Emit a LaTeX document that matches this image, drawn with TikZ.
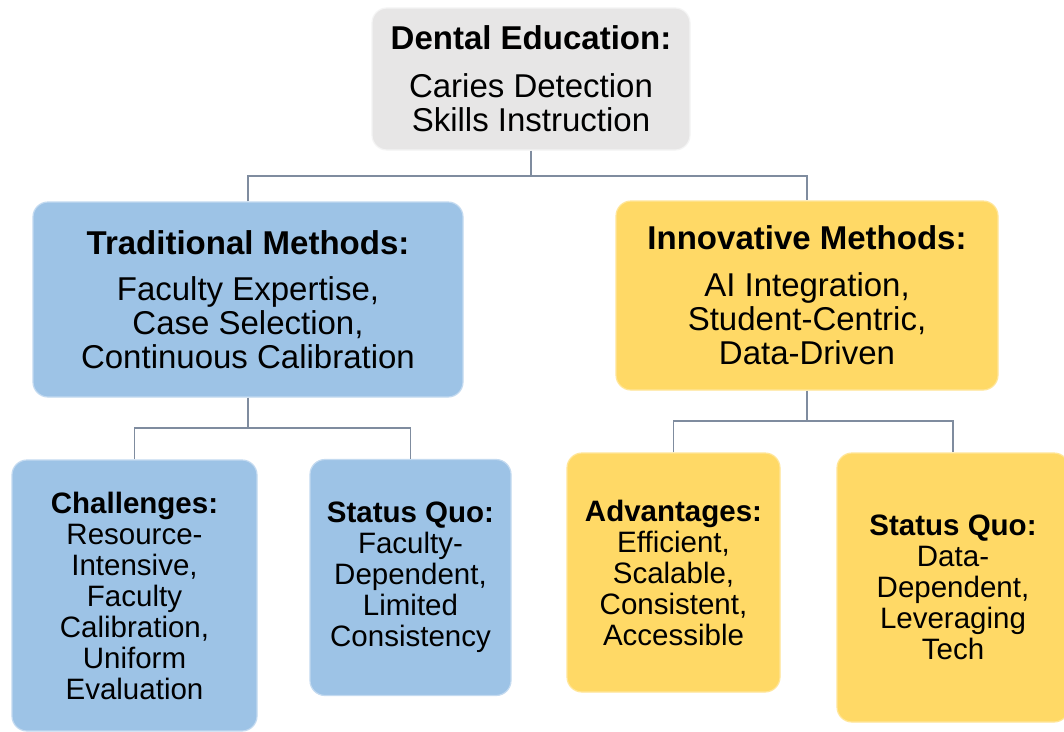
\documentclass[tikz,border=0pt]{standalone}
\usepackage{fontspec}
\setmainfont{Liberation Sans}
\definecolor{boxgray}{HTML}{E7E6E6}
\definecolor{graybord}{HTML}{F4F4F4}
\definecolor{boxblue}{HTML}{9DC3E6}
\definecolor{bluebord}{HTML}{C3DAF0}
\definecolor{boxyellow}{HTML}{FFD966}
\definecolor{yellowbord}{HTML}{FFE699}
\definecolor{connc}{HTML}{7F8C9F}
\tikzset{
  box/.style={rectangle, rounded corners=15pt, align=center, inner sep=0pt, text=black, line width=1.2pt},
  bigtxt/.style={font=\fontsize{33}{34}\selectfont},
  smalltxt/.style={font=\fontsize{29.5}{31}\selectfont},
  graybox/.style={box, bigtxt, fill=boxgray, draw=graybord},
  bluebig/.style={box, bigtxt, fill=boxblue, draw=bluebord},
  yellowbig/.style={box, bigtxt, fill=boxyellow, draw=yellowbord},
  bluesmall/.style={box, smalltxt, fill=boxblue, draw=bluebord},
  yellowsmall/.style={box, smalltxt, fill=boxyellow, draw=yellowbord},
  conn/.style={draw=connc, line width=1.3pt},
}
\begin{document}
\begin{tikzpicture}[x=1pt, y=-1pt]
\useasboundingbox (0,0) rectangle (1064,731);
\clip (0,0) rectangle (1064,731);
\fill[white] (0,0) rectangle (1064,731);

\node[graybox, minimum width=318pt, minimum height=142pt] (top) at (531,79)
  {\textbf{Dental Education:}\\[14pt]Caries Detection\\Skills Instruction};

\node[bluebig, minimum width=430pt, minimum height=195pt] (trad) at (248,299.5)
  {\textbf{Traditional Methods:}\\[12pt]Faculty Expertise,\\Case Selection,\\Continuous Calibration};

\node[yellowbig, minimum width=382pt, minimum height=189pt] (innov) at (807,295.5)
  {\textbf{Innovative Methods:}\\[13pt]AI Integration,\\Student-Centric,\\Data-Driven};

\node[bluesmall, minimum width=245pt, minimum height=271pt] (chal) at (134.5,595.5)
  {\textbf{Challenges:}\\Resource-\\Intensive,\\Faculty\\Calibration,\\Uniform\\Evaluation};

\node[bluesmall, minimum width=201pt, minimum height=236pt] (sql) at (410.5,577.5)
  {\textbf{Status Quo:}\\Faculty-\\Dependent,\\Limited\\Consistency};

\node[yellowsmall, minimum width=213pt, minimum height=239pt] (adv) at (673.5,572.5)
  {\textbf{Advantages:}\\Efficient,\\Scalable,\\Consistent,\\Accessible};

\node[yellowsmall, minimum width=232pt, minimum height=269pt] (sqr) at (953,587.5)
  {\textbf{Status Quo:}\\Data-\\Dependent,\\Leveraging\\Tech};

\coordinate (j1) at (531,176);
\coordinate (j2) at (248,428);
\coordinate (j3) at (807,421);

\draw[conn] (top.south) -- (j1);
\draw[conn] (trad.north) |- (j1) -| (innov.north);
\draw[conn] (trad.south) -- (j2);
\draw[conn] (chal.north) |- (j2) -| (sql.north);
\draw[conn] (innov.south) -- (j3);
\draw[conn] (adv.north) |- (j3) -| (sqr.north);
\end{tikzpicture}
\end{document}
